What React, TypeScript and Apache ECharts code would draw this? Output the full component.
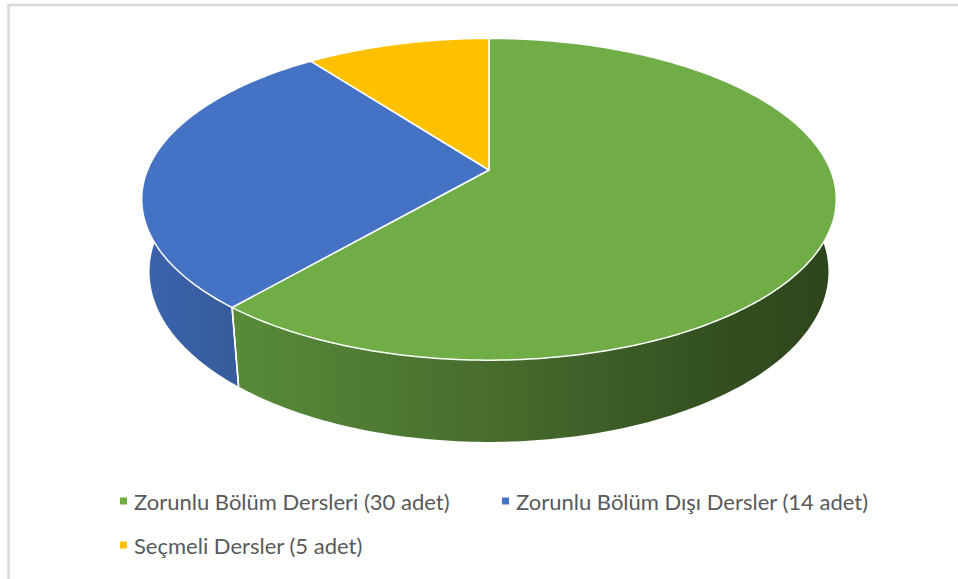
import React, { useEffect, useRef } from "react";
import * as echarts from "echarts";

const categories = [
  "Zorunlu Bölüm Dersleri (30 adet)",
  "Zorunlu Bölüm Dışı Dersler (14 adet)",
  "Seçmeli Dersler (5 adet)",
];
const values = [30, 14, 5];
const colors = ["#70AD47", "#4472C4", "#FFC000"];

// projection parameters (layout)
const CX = 489;
const CY = 170;
const F = 1672;
const ALPHA = (27.1 * Math.PI) / 180;
const SA = Math.sin(ALPHA);
const CA = Math.cos(ALPHA);
const D = 5.5 * CA;
const H = 0.24;
const GX0 = 143;
const GX1 = 836;

function project(theta: number, h: number): number[] {
  const u = Math.sin(theta);
  const v = Math.cos(theta);
  const depth = D + v * CA - h * SA;
  const X = (F * u) / depth;
  const Y = (F * (h * CA + v * SA)) / depth;
  return [CX + X, CY - Y];
}

function shade(hex: string, f: number): string {
  const n = parseInt(hex.slice(1), 16);
  const r = Math.round(((n >> 16) & 255) * f);
  const g = Math.round(((n >> 8) & 255) * f);
  const b = Math.round((n & 255) * f);
  return `rgb(${r},${g},${b})`;
}

const total = values.reduce((a, b) => a + b, 0);
const starts: number[] = [];
{
  let acc = 0;
  for (const v of values) {
    starts.push((acc / total) * Math.PI * 2);
    acc += v;
  }
}

function makeRender(i: number) {
  return (params: any, api: any) => {
    const val = api.value(0);
    const t1 = starts[i];
    const t2 = t1 + (val / total) * Math.PI * 2;
    const steps = Math.max(2, Math.ceil(((t2 - t1) * 180) / Math.PI));
    const topPts: number[][] = [];
    const botPts: number[][] = [];
    for (let k = 0; k <= steps; k++) {
      const t = t1 + ((t2 - t1) * k) / steps;
      topPts.push(project(t, 0));
      botPts.push(project(t, -H));
    }
    const c = colors[i];
    const wall = {
      type: "polygon",
      z2: 1,
      shape: { points: topPts.concat(botPts.slice().reverse()) },
      style: {
        fill: {
          type: "linear",
          x: GX0,
          y: 0,
          x2: GX1,
          y2: 0,
          global: true,
          colorStops: [
            { offset: 0, color: shade(c, 0.88) },
            { offset: 0.15, color: shade(c, 0.79) },
            { offset: 0.5, color: shade(c, 0.63) },
            { offset: 0.85, color: shade(c, 0.45) },
            { offset: 1, color: shade(c, 0.4) },
          ],
        },
        stroke: null,
      },
    };
    const edges = [t1, t2].map((t) => {
      const a = project(t, 0);
      const b = project(t, -H);
      return {
        type: "line",
        z2: 2,
        shape: { x1: a[0], y1: a[1], x2: b[0], y2: b[1] },
        style: { stroke: "#ffffff", lineWidth: 1.5 },
      };
    });
    const top = {
      type: "polygon",
      z2: 10,
      shape: { points: [[CX, CY]].concat(topPts) },
      style: {
        fill: c,
        stroke: "#ffffff",
        lineWidth: 1.5,
        lineJoin: "round",
      },
    };
    return { type: "group", children: [wall, ...edges, top] };
  };
}

const legendPos = [
  { left: 120, top: 490 },
  { left: 502, top: 490 },
  { left: 120, top: 534 },
];

export default function App() {
  const ref = useRef<HTMLDivElement>(null);
  useEffect(() => {
    if (!ref.current) return;
    const chart = echarts.init(ref.current, null, { renderer: "svg" });
    chart.setOption({
      animation: false,
      backgroundColor: "#ffffff",
      legend: categories.map((name, i) => ({
        data: [name],
        left: legendPos[i].left,
        top: legendPos[i].top,
        icon: "rect",
        itemWidth: 7,
        itemHeight: 7,
        padding: 0,
        selectedMode: false,
        textStyle: {
          color: "#595959",
          fontSize: 22,
          fontFamily: "Lato",
          padding: [0, 0, 0, 2],
        },
      })),
      graphic: [
        {
          type: "rect",
          z: 100,
          silent: true,
          shape: { x: 8.5, y: 5, width: 2000, height: 2000 },
          style: { fill: "none", stroke: "#D9D9D9", lineWidth: 2.5 },
        },
      ],
      series: categories.map((name, i) => ({
        type: "custom",
        name,
        coordinateSystem: "none",
        itemStyle: { color: colors[i] },
        renderItem: makeRender(i),
        data: [[values[i]]],
        silent: true,
      })),
    });
    return () => chart.dispose();
  }, []);
  return (
    <div
      ref={ref}
      style={{ position: "absolute", left: 0, top: 0, width: 958, height: 579 }}
    />
  );
}
